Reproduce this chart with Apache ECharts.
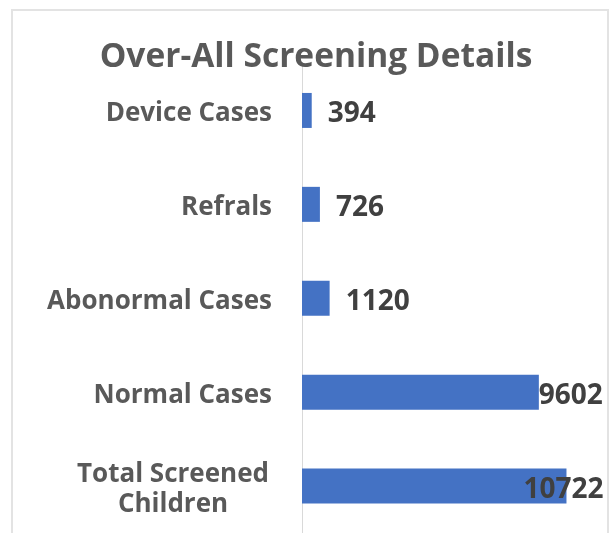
<!DOCTYPE html>
<html>
<head>
<meta charset="utf-8">
<script src="https://cdn.jsdelivr.net/npm/echarts@6/dist/echarts.min.js"></script>
<style>
  html, body { margin: 0; padding: 0; background: #fff; }
  #char { width: 614px; height: 533px; }
</style>
</head>
<body>
<div id="char"></div>
<script>
// data
var categories = ['Device Cases', 'Refrals', 'Abonormal Cases', 'Normal Cases', 'Total Screened Children'];
var values = [394, 726, 1120, 9602, 10722];
var labelFont = 'Open Sans';

var myChart = echarts.init(document.getElementById('char'));

// the two long bars have their label pulled back inside the plot, like Excel does
var barData = values.map(function (v, i) {
  var item = { value: v };
  if (i === 3) item.label = { position: 'insideRight', distance: 0, offset: [64, 4] };
  if (i === 4) item.label = { position: 'insideRight', distance: 0, offset: [37, 4] };
  return item;
});

var option = {
  backgroundColor: '#fff',
  animation: false,
  title: {
    text: 'Over-All Screening Details',
    left: 311,
    textAlign: 'center',
    top: 35,
    textStyle: {
      fontFamily: labelFont,
      fontWeight: 'bold',
      fontSize: 33.5,
      color: '#595959'
    }
  },
  graphic: [
    {
      type: 'rect',
      shape: { x: 12, y: 10, width: 596, height: 600 },
      style: { fill: 'none', stroke: '#e3e3e3', lineWidth: 2 },
      silent: true
    }
  ],
  grid: {
    left: 302,
    right: 16,
    top: 63.5,
    bottom: -6,
    containLabel: false
  },
  xAxis: {
    type: 'value',
    min: 0,
    max: 12000,
    show: false
  },
  yAxis: {
    type: 'category',
    inverse: true,
    data: categories,
    axisLine: { show: true, lineStyle: { color: '#d9d9d9', width: 1 } },
    axisTick: { show: false },
    axisLabel: {
      margin: 30,
      padding: [7, 0, 0, 0],
      fontFamily: labelFont,
      fontWeight: 'bold',
      fontSize: 26,
      color: '#595959',
      lineHeight: 30,
      formatter: function (v) {
        if (v === 'Total Screened Children') return '{c|Total Screened}\n{c|Children}';
        return v;
      },
      rich: {
        c: {
          width: 198,
          align: 'center',
          fontFamily: labelFont,
          fontWeight: 'bold',
          fontSize: 26,
          color: '#595959',
          lineHeight: 30
        }
      }
    }
  },
  series: [
    {
      name: 'Screening',
      type: 'bar',
      barWidth: 35,
      itemStyle: { color: '#4472C4' },
      label: {
        show: true,
        position: 'right',
        distance: 16,
        offset: [0, 4],
        fontFamily: labelFont,
        fontWeight: 'bold',
        fontSize: 28,
        color: '#404040'
      },
      data: barData
    }
  ]
};

myChart.setOption(option);
</script>
</body>
</html>
